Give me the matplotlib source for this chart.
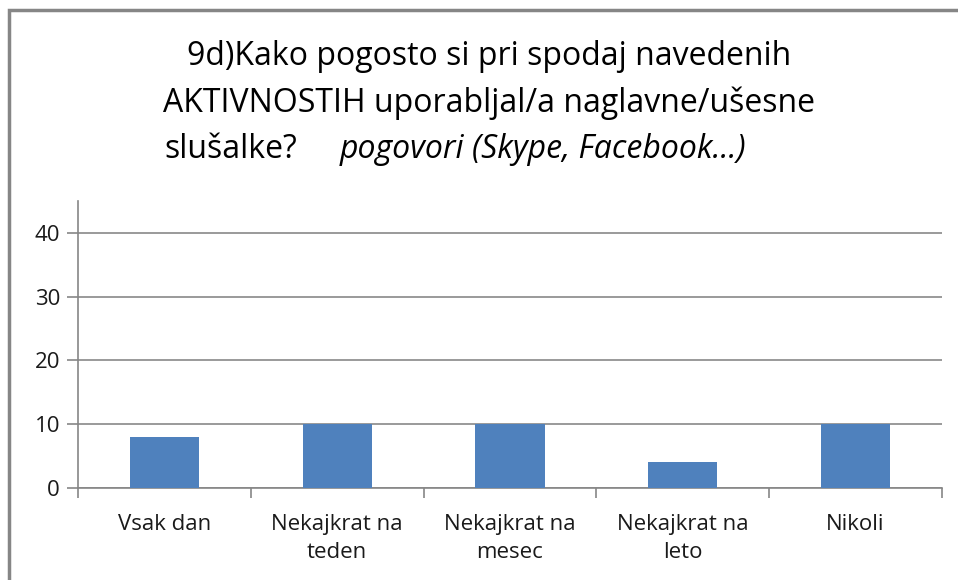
import matplotlib.pyplot as plt
from matplotlib.patches import Rectangle
from matplotlib.ticker import FixedLocator

# Data
categories = ["Vsak dan", "Nekajkrat na\nteden", "Nekajkrat na\nmesec", "Nekajkrat na\nleto", "Nikoli"]
values = [8, 10, 10, 4, 10]
y_ticks = [0, 10, 20, 30, 40]

title_lines = [
    "9d)Kako pogosto si pri spodaj navedenih",
    "AKTIVNOSTIH uporabljal/a naglavne/ušesne",
]
title_q = "slušalke?"
title_sub = "pogovori (Skype, Facebook...)"

plt.rcParams['font.family'] = ['Open Sans', 'DejaVu Sans']

W, H = 958, 580
fig = plt.figure(figsize=(W / 100, H / 100), dpi=100)

def px(x, y):
    return x / W, 1 - y / H

# chart border (top + left visible, the rest runs off the image)
fig.patches.append(Rectangle(px(9, 700), (W + 50) / W, (700 - 10) / H,
                             transform=fig.transFigure, fill=False,
                             edgecolor='#868686', linewidth=2.5))

ax = fig.add_axes([78 / W, (H - 488) / H, (942 - 78) / W, (488 - 201) / H])
x = list(range(len(categories)))
ax.bar(x, values, width=0.4, color='#4F81BD', zorder=3)

ax.set_xlim(-0.5, len(categories) - 0.5)
ax.set_ylim(0, 45)
ax.set_yticks(y_ticks)
ax.yaxis.grid(True, color='#898989', linewidth=1.2)
ax.set_axisbelow(True)

ax.set_xticks(x)
ax.set_xticklabels(categories, fontsize=16, linespacing=1.4, color='#1a1a1a')
ax.xaxis.set_minor_locator(FixedLocator([i - 0.5 for i in range(len(categories) + 1)]))
ax.tick_params(axis='x', which='major', length=0, pad=19)
ax.tick_params(axis='x', which='minor', length=7, color='#868686', width=1.2)
ax.tick_params(axis='y', length=8, color='#868686', width=1.2, labelsize=16, pad=5,
               labelcolor='#1a1a1a')

for s in ['top', 'right']:
    ax.spines[s].set_visible(False)
for s in ['left', 'bottom']:
    ax.spines[s].set_color('#868686')
    ax.spines[s].set_linewidth(1.2)

# title lines
fig.text(*px(489, 65), title_lines[0], fontsize=23, ha='center', va='baseline')
fig.text(*px(489, 112), title_lines[1], fontsize=23, ha='center', va='baseline')
fig.text(*px(297, 158), title_q, fontsize=23, ha='right', va='baseline')
fig.text(*px(340, 158), title_sub, fontsize=23, ha='left', va='baseline', style='italic')

fig.savefig('out.png', dpi=100)
plt.close(fig)
